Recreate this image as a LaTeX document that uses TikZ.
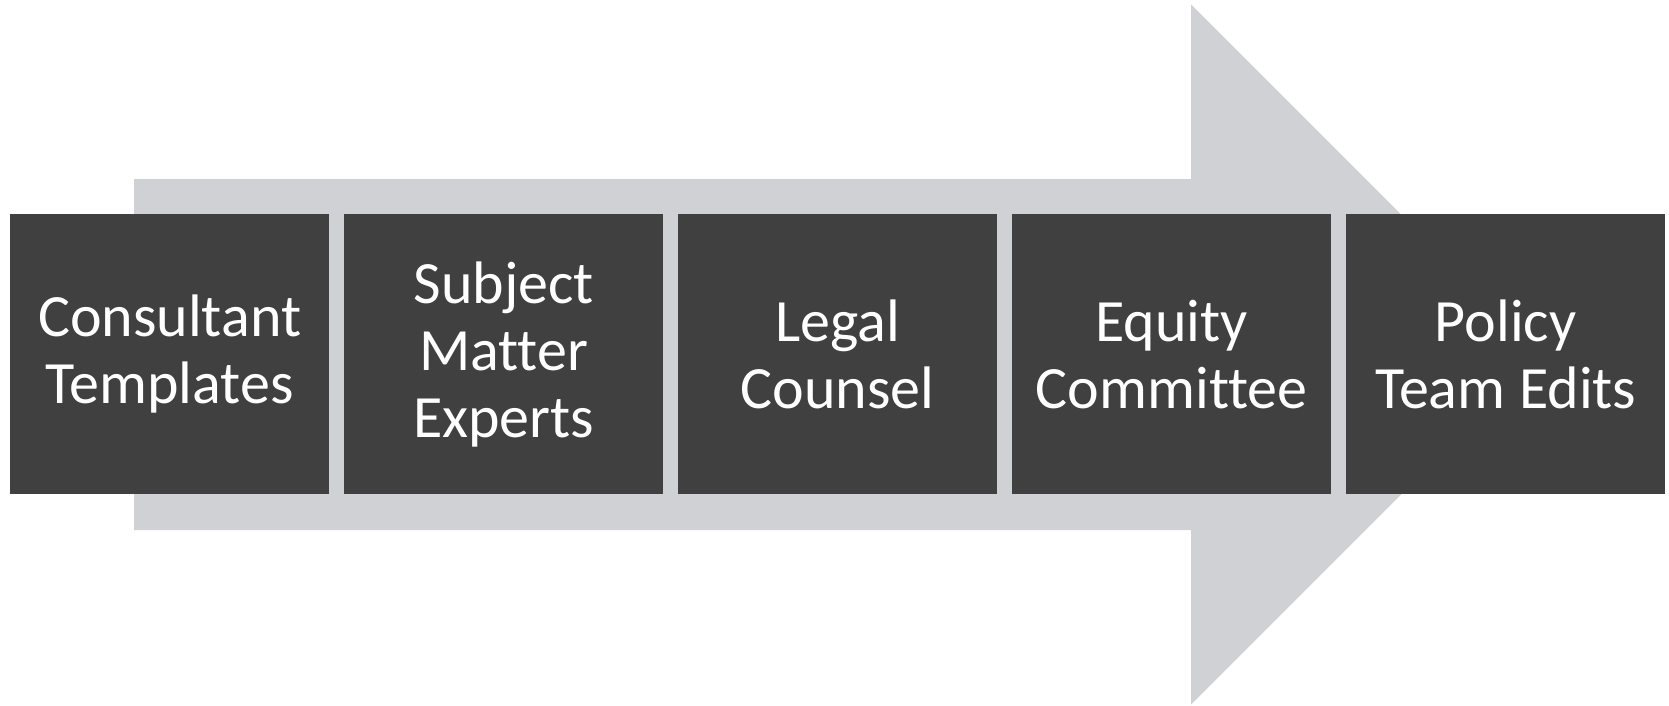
\documentclass[tikz,border=0pt]{standalone}
\usepackage{fontspec}
\setmainfont{Carlito}[Ligatures={NoCommon}]
\definecolor{arrowgray}{HTML}{D0D1D4}
\definecolor{boxdark}{HTML}{404040}
\begin{document}
\begin{tikzpicture}[x=1pt,y=-1pt,
  stagebox/.style={fill=boxdark,text=white,draw=none,minimum width=319pt,minimum height=280pt,
    inner sep=0pt,align=center,anchor=north west,font=\fontsize{60}{67}\selectfont}]
\useasboundingbox (0,0) rectangle (1669,705);
\fill[arrowgray] (134,179) -- (1191,179) -- (1191,4.5) -- (1541,354.5) -- (1191,704.5) -- (1191,530) -- (134,530) -- cycle;
\node[stagebox] (b1) at (10,214) {Consultant\\Templates};
\node[stagebox] (b2) at (344,214) {Subject\\Matter\\Experts};
\node[stagebox] (b3) at (678,214) {Legal\\Counsel};
\node[stagebox] (b4) at (1012,214) {Equity\\Committee};
\node[stagebox] (b5) at (1346,214) {Policy\\Team Edits};
\end{tikzpicture}
\end{document}
